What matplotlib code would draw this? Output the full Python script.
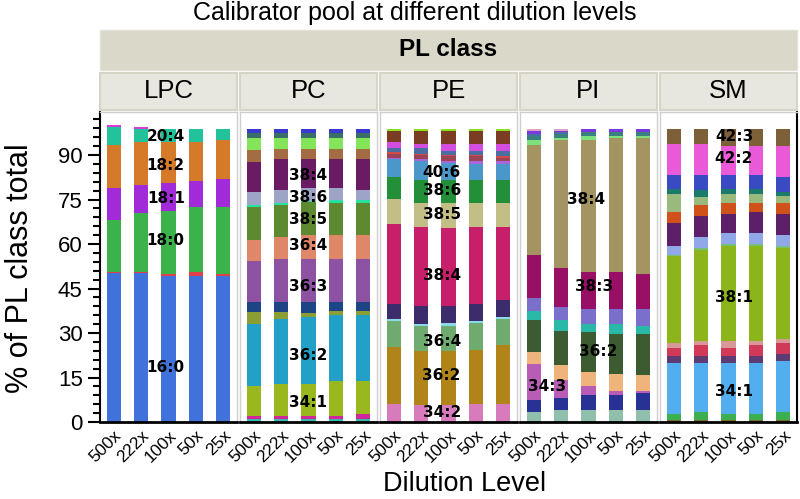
# stacked composition per PL class, one panel per class

import numpy as np
import matplotlib
matplotlib.use('Agg')
import matplotlib.pyplot as plt
from matplotlib.patches import Rectangle
from matplotlib.ticker import MultipleLocator

plt.rcParams['font.family'] = ['Liberation Sans', 'DejaVu Sans']

DILUTIONS = ["500x", "222x", "100x", "50x", "25x"]
CLASSES = ["LPC", "PC", "PE", "PI", "SM"]

# rows = dilution level, columns = species from bottom to top (% of class total)
LPC_VALUES = [
    [50.1, 0.6, 17.4, 10.8, 14.6, 5.9, 0.6],
    [50.1, 0.4, 19.8, 9.5, 14.5, 4.5, 0.8],
    [49.3, 0.6, 21.1, 9.6, 13.7, 4.5, 0.0],
    [49.3, 1.2, 22.1, 8.7, 13.0, 4.5, 0.0],
    [49.3, 0.6, 22.7, 9.4, 13.0, 3.8, 0.0],
]
LPC_COLORS = ['#4172dc', '#e0404a', '#3cb34a', '#a12bd8', '#d47a28', '#22c39a', '#d63cd6']
LPC_LABELS = [("20:4", 1.9, 96.3), ("18:2", 1.9, 86.5), ("18:1", 1.9, 75.4),
              ("18:0", 1.9, 61.3), ("16:0", 1.9, 18.5)]

PC_VALUES = [
    [1.1, 0.8, 10.1, 21.0, 4.0, 3.5, 13.8, 7.0, 11.2, 0.6, 4.4, 10.2, 4.1, 3.9, 1.6, 1.5],
    [1.1, 0.8, 11.0, 21.8, 2.5, 3.3, 14.6, 7.3, 10.7, 0.8, 4.3, 10.3, 3.6, 3.6, 1.6, 1.5],
    [1.1, 0.8, 11.0, 22.4, 1.4, 3.8, 14.6, 7.8, 11.2, 0.3, 4.5, 9.6, 3.6, 3.6, 1.6, 1.5],
    [1.1, 0.8, 11.8, 22.5, 1.3, 3.0, 14.6, 7.8, 11.0, 0.8, 4.2, 9.6, 3.6, 3.6, 1.6, 1.5],
    [1.1, 1.7, 10.9, 22.5, 1.3, 3.0, 14.6, 7.8, 11.0, 0.8, 3.5, 10.3, 3.6, 3.6, 1.6, 1.5],
]
PC_COLORS = ['#3ab8b0', '#d0289a', '#98b81e', '#23a0c8', '#8a9e34', '#1d4585', '#8e52a2', '#e0876a',
             '#5d8a30', '#28e0a0', '#9ea4c8', '#6b1b63', '#a36c42', '#84e45a', '#3a6e68', '#3a3ad0']
PC_LABELS = [("38:4", 2.0, 83.2), ("38:6", 2.0, 75.8), ("38:5", 2.0, 68.1), ("36:4", 2.0, 59.4),
             ("36:3", 2.0, 45.6), ("36:2", 2.0, 22.4), ("34:1", 2.0, 6.7)]

PE_VALUES = [
    [6.2, 19.0, 8.7, 0.7, 5.2, 26.8, 8.7, 7.3, 5.9, 0.6, 1.2, 0.7, 1.2, 2.2, 3.6, 0.8],
    [5.6, 18.3, 8.6, 0.5, 6.0, 26.8, 8.1, 7.6, 6.4, 0.9, 1.1, 0.3, 2.0, 1.5, 4.3, 0.8],
    [5.6, 18.3, 8.6, 0.8, 5.7, 26.3, 8.6, 7.6, 5.8, 0.7, 1.6, 0.5, 1.2, 2.4, 4.3, 0.8],
    [6.2, 18.2, 8.9, 0.6, 5.9, 26.0, 8.1, 7.8, 5.3, 0.9, 1.7, 0.5, 1.4, 2.2, 4.3, 0.8],
    [6.2, 19.6, 8.9, 0.7, 5.8, 24.6, 8.1, 7.8, 5.3, 0.9, 1.1, 0.6, 1.9, 2.2, 4.3, 0.8],
]
PE_COLORS = ['#d87bbd', '#b08418', '#6fab6f', '#8ad8e8', '#3d2c6b', '#c81f6b', '#c3be85', '#238f38',
             '#4b97c9', '#a866d8', '#9a4455', '#d04a4a', '#4a6ea0', '#d24de0', '#7a3c22', '#8ce022']
PE_LABELS = [("40:6", 1.75, 84.0), ("38:6", 1.75, 78.2), ("38:5", 1.75, 70.0), ("38:4", 1.75, 49.5),
             ("36:4", 1.75, 27.1), ("36:2", 1.75, 15.7), ("34:2", 1.75, 3.1)]

PI_VALUES = [
    [3.4, 4.1, 11.9, 4.1, 11.0, 3.0, 4.3, 14.5, 37.2, 1.5, 1.3, 0.8, 0.9, 0.8],
    [3.9, 4.3, 6.0, 5.1, 11.5, 3.6, 4.5, 12.9, 43.2, 0.7, 1.4, 0.5, 0.4, 0.8],
    [3.9, 5.1, 3.0, 5.0, 13.2, 2.8, 5.1, 12.3, 44.6, 1.3, 1.3, 0.0, 1.2, 0.0],
    [3.9, 5.1, 1.6, 5.6, 13.3, 3.5, 5.1, 12.3, 45.3, 0.8, 1.1, 0.0, 1.2, 0.0],
    [3.9, 5.8, 0.7, 5.3, 13.8, 3.0, 5.6, 11.7, 45.9, 0.8, 1.1, 0.0, 1.2, 0.0],
]
PI_COLORS = ['#90bfac', '#283294', '#b95cb5', '#efb47c', '#3c5b30', '#2ab8a8', '#7a70cc',
             '#980f66', '#a39462', '#7ce07c', '#3a8080', '#4a6ea0', '#7a3ae0', '#e0a0c0']
PI_LABELS = [("38:4", 1.9, 75.0), ("38:3", 2.2, 45.6), ("36:2", 2.35, 23.9), ("34:3", 0.5, 12.0)]

SM_VALUES = [
    [0.8, 1.8, 17.3, 2.2, 2.9, 1.7, 29.1, 0.5, 3.1, 7.8, 3.7, 5.8, 1.7, 5.0, 10.3, 5.1],
    [0.8, 2.6, 16.5, 2.2, 3.7, 1.6, 30.5, 0.7, 3.6, 7.2, 3.7, 2.8, 2.3, 5.2, 10.3, 5.1],
    [0.8, 1.8, 17.3, 2.2, 2.9, 2.4, 32.0, 0.5, 3.7, 6.6, 3.7, 3.0, 1.5, 5.0, 9.5, 5.9],
    [0.8, 1.8, 17.3, 2.2, 3.7, 1.6, 32.0, 0.5, 3.7, 7.3, 3.0, 3.0, 1.5, 5.0, 9.5, 5.9],
    [0.8, 2.6, 17.3, 2.3, 3.7, 1.3, 30.6, 0.8, 3.5, 7.3, 3.7, 2.2, 1.5, 5.0, 10.3, 5.9],
]
SM_COLORS = ['#7a6a22', '#3cb050', '#52aeee', '#5c3c72', '#d03a58', '#d89898', '#8bb51a', '#78c078',
             '#90a8e8', '#5c1f68', '#d0521a', '#9ab97c', '#1c7a6a', '#3a4ac2', '#ea5ad8', '#7e6038']
SM_LABELS = [("42:3", 2.2, 96.3), ("42:2", 2.2, 88.7), ("38:1", 2.2, 42.0), ("34:1", 2.2, 10.3)]

PANELS = [
    (LPC_VALUES, LPC_COLORS, LPC_LABELS),
    (PC_VALUES, PC_COLORS, PC_LABELS),
    (PE_VALUES, PE_COLORS, PE_LABELS),
    (PI_VALUES, PI_COLORS, PI_LABELS),
    (SM_VALUES, SM_COLORS, SM_LABELS),
]

W, H = 800, 499
fig = plt.figure(figsize=(W / 100, H / 100), dpi=100)

# layout in pixels (from the top-left corner)
PANEL_X = [100, 240, 380, 520, 660]
PANEL_W = 137
PLOT_TOP, PLOT_BOT = 112, 422


def fx(px):
    return px / W


def fy(py):
    return 1 - py / H


axes = []
for i, (values, colors, labels) in enumerate(PANELS):
    ax = fig.add_axes([fx(PANEL_X[i]), fy(PLOT_BOT), PANEL_W / W, (PLOT_BOT - PLOT_TOP) / H])
    vals = np.array(values).T
    x = np.arange(len(DILUTIONS))
    bottom = np.zeros(len(DILUTIONS))
    for seg, col in zip(vals, colors):
        ax.bar(x, seg, 0.52, bottom=bottom, color=col, linewidth=0)
        bottom += seg
    for txt, lx, ly in labels:
        ax.text(lx, ly, txt, ha='center', va='center', fontsize=11, fontweight='bold',
                family='DejaVu Sans', color='black')

    ax.set_xlim(-0.5, 4.5)
    ax.set_ylim(0, 104.5)
    ax.set_xticks(x)
    ax.set_xticklabels(DILUTIONS, rotation=45, ha='right', rotation_mode='anchor', fontsize=12.5)
    ax.tick_params(axis='x', length=0, pad=4)
    for s in ax.spines.values():
        s.set_color('#cfcfcf')
        s.set_linewidth(1)
    ax.spines['bottom'].set_color('black')
    ax.spines['bottom'].set_linewidth(2)
    if i == 0:
        ax.yaxis.set_major_locator(MultipleLocator(15))
        ax.yaxis.set_minor_locator(MultipleLocator(3))
        ax.tick_params(axis='y', which='major', length=9, width=1.5, labelsize=16)
        ax.tick_params(axis='y', which='minor', length=5, width=1.5)
        ax.spines['left'].set_color('black')
        ax.spines['left'].set_linewidth(1.5)
    else:
        ax.set_yticks([])
    if i == len(PANELS) - 1:
        ax.spines['right'].set_color('black')
        ax.spines['right'].set_linewidth(1.5)
    axes.append(ax)

# strips on top of the panels
fig.add_artist(Rectangle((fx(100), fy(70)), (797 - 100) / W, 40 / H, transform=fig.transFigure,
                         facecolor='#dad8c9', edgecolor='#e4e2d6', linewidth=1))
fig.text(fx(448), fy(50), "PL class", ha='center', va='center', fontsize=17.5, fontweight='bold')
for i, name in enumerate(CLASSES):
    fig.add_artist(Rectangle((fx(PANEL_X[i]), fy(110)), PANEL_W / W, 37 / H, transform=fig.transFigure,
                             facecolor='#e8e7df', edgecolor='#d6d4c6', linewidth=1.5))
    fig.text(fx(PANEL_X[i] + PANEL_W / 2), fy(91), name, ha='center', va='center', fontsize=18.5)

fig.text(fx(415), fy(13), "Calibrator pool at different dilution levels", ha='center', va='center', fontsize=18)
fig.text(fx(465), fy(484), "Dilution Level", ha='center', va='center', fontsize=19.5)
fig.text(fx(20), fy(268), "% of PL class total", ha='center', va='center', fontsize=22, rotation=90)

plt.savefig("out.png", dpi=100)
plt.close()
